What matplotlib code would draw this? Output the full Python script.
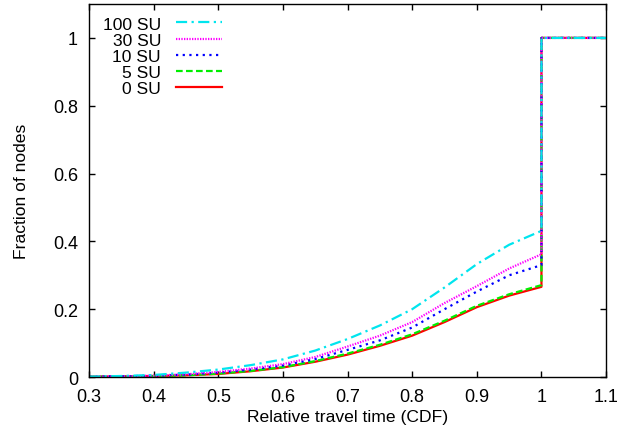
import matplotlib
matplotlib.use("Agg")
import matplotlib.pyplot as plt

plt.rcParams['font.family'] = ['Liberation Sans', 'DejaVu Sans']
plt.rcParams['font.size'] = 12.6

# relative travel time grid (the curves jump to 1 at x = 1.0 and stay flat to 1.1)
x = [0.30, 0.35, 0.40, 0.45, 0.50, 0.55, 0.60, 0.65, 0.70, 0.75, 0.80, 0.85, 0.90, 0.95, 1.00, 1.00, 1.10]

su_0 = [0.001, 0.002, 0.003, 0.005, 0.009, 0.017, 0.028, 0.045, 0.066, 0.092, 0.122, 0.162, 0.206, 0.240, 0.266, 1.0, 1.0]
su_5 = [0.001, 0.002, 0.003, 0.005, 0.010, 0.018, 0.029, 0.047, 0.069, 0.095, 0.126, 0.166, 0.210, 0.244, 0.271, 1.0, 1.0]
su_10 = [0.001, 0.002, 0.004, 0.007, 0.013, 0.022, 0.034, 0.053, 0.080, 0.108, 0.146, 0.200, 0.252, 0.300, 0.330, 1.0, 1.0]
su_30 = [0.001, 0.002, 0.004, 0.008, 0.015, 0.025, 0.038, 0.059, 0.090, 0.122, 0.162, 0.218, 0.268, 0.320, 0.362, 1.0, 1.0]
su_100 = [0.001, 0.003, 0.006, 0.013, 0.022, 0.035, 0.052, 0.078, 0.112, 0.152, 0.200, 0.264, 0.333, 0.390, 0.431, 1.0, 1.0]

fig = plt.figure(figsize=(6.21, 4.35), dpi=100)
ax = fig.add_axes([0.1433, 0.131, 0.976 - 0.1433, 0.9885 - 0.131])

lw = 1.6
l0, = ax.plot(x, su_0, color='#ff0000', lw=lw, linestyle='-', label='0 SU')
l5, = ax.plot(x, su_5, color='#00ee00', lw=lw, linestyle=(0, (3, 1.5)), label='5 SU')
l10, = ax.plot(x, su_10, color='#0000ff', lw=lw, linestyle=(0, (1, 2)), label='10 SU')
l30, = ax.plot(x, su_30, color='#ff00ff', lw=lw, linestyle=(0, (0.6, 0.6)), label='30 SU')
l100, = ax.plot(x, su_100, color='#00e5ee', lw=lw, linestyle=(0, (5, 2, 1, 2)), label='100 SU')

ax.set_xlim(0.3, 1.1)
ax.set_ylim(0, 1.1)
ax.set_xticks([0.3, 0.4, 0.5, 0.6, 0.7, 0.8, 0.9, 1.0, 1.1])
ax.set_xticklabels(['0.3', '0.4', '0.5', '0.6', '0.7', '0.8', '0.9', '1', '1.1'])
ax.set_yticks([0, 0.2, 0.4, 0.6, 0.8, 1.0])
ax.set_yticklabels(['0', '0.2', '0.4', '0.6', '0.8', '1'])
ax.tick_params(direction='in', top=True, right=True, length=4, width=1, pad=8, labelsize=13)
for s in ax.spines.values():
    s.set_linewidth(1)

ax.set_xlabel('Relative travel time (CDF)', labelpad=3)
ax.set_ylabel('Fraction of nodes', labelpad=17)

ax.legend([l100, l30, l10, l5, l0], ['100 SU', '30 SU', '10 SU', '5 SU', '0 SU'],
          loc='upper left', bbox_to_anchor=(0.003, 1.0), frameon=False, markerfirst=False,
          handlelength=2.65, handletextpad=0.85, labelspacing=0.05, borderaxespad=0.3)

fig.savefig('out.png', dpi=100)
